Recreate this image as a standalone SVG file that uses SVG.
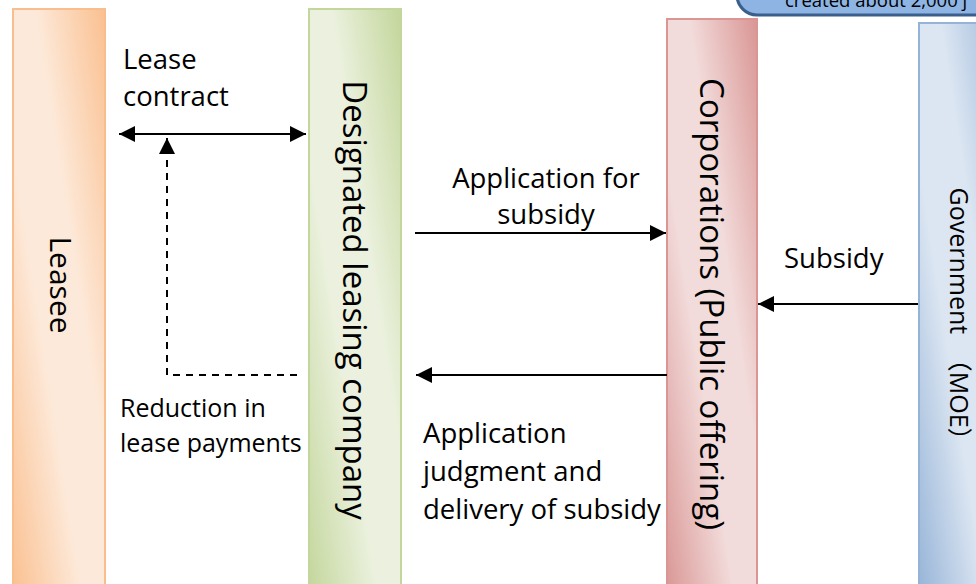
<svg xmlns="http://www.w3.org/2000/svg" width="976" height="584" viewBox="0 0 976 584">
  <style>
    .lbl { font-family: "Open Sans", "Liberation Sans", "Noto Sans CJK JP", sans-serif; fill: #000; }
    .h { font-size: 27.5px; }
    .s { font-size: 25px; }
    .v { font-size: 33px; }
    .line { stroke: #000; stroke-width: 2; fill: none; }
    .dash { stroke: #000; stroke-width: 2; fill: none; stroke-dasharray: 7 6; }
  </style>
  <defs>
    <linearGradient id="gOrange" x1="1" y1="0" x2="0" y2="1">
      <stop offset="0" stop-color="#FAC090"/>
      <stop offset="0.38" stop-color="#FDE9D9"/>
      <stop offset="0.62" stop-color="#FDE9D9"/>
      <stop offset="1" stop-color="#FAC090"/>
    </linearGradient>
    <linearGradient id="gGreen" x1="1" y1="0" x2="0" y2="1">
      <stop offset="0" stop-color="#C3D69B"/>
      <stop offset="0.38" stop-color="#EBF1DE"/>
      <stop offset="0.62" stop-color="#EBF1DE"/>
      <stop offset="1" stop-color="#C3D69B"/>
    </linearGradient>
    <linearGradient id="gRed" x1="1" y1="0" x2="0" y2="1">
      <stop offset="0" stop-color="#D99694"/>
      <stop offset="0.38" stop-color="#F2DCDB"/>
      <stop offset="0.62" stop-color="#F2DCDB"/>
      <stop offset="1" stop-color="#D99694"/>
    </linearGradient>
    <linearGradient id="gBlue" x1="1" y1="0" x2="0" y2="1">
      <stop offset="0" stop-color="#95B3D7"/>
      <stop offset="0.38" stop-color="#DCE6F2"/>
      <stop offset="0.62" stop-color="#DCE6F2"/>
      <stop offset="1" stop-color="#95B3D7"/>
    </linearGradient>
    <marker id="ah" viewBox="0 0 10 10" refX="10" refY="5" markerWidth="8" markerHeight="8" markerUnits="strokeWidth" orient="auto-start-reverse">
      <path d="M0,0 L10,5 L0,10 Z" fill="#000"/>
    </marker>
  </defs>

  <!-- banner at the top edge -->
  <g id="banner">
    <rect x="737" y="-40" width="280" height="55" rx="20" ry="20" fill="#8EB4E3" stroke="#3B5F8C" stroke-width="3"/>
    <text class="lbl" x="785" y="7" font-size="18.5">created about 2,000 j</text>
  </g>

  <!-- lanes -->
  <g id="leasee">
    <rect x="13" y="9" width="92" height="590" fill="url(#gOrange)" stroke="#F9BE8E" stroke-width="2"/>
    <text class="lbl" font-size="30" transform="translate(50 285) rotate(90)" text-anchor="middle">Leasee</text>
  </g>
  <g id="leasing-company">
    <rect x="309" y="9" width="92" height="590" fill="url(#gGreen)" stroke="#C3D69B" stroke-width="2"/>
    <text class="lbl v" transform="translate(343 300) rotate(90)" text-anchor="middle">Designated leasing company</text>
  </g>
  <g id="corporations">
    <rect x="667" y="19" width="90" height="580" fill="url(#gRed)" stroke="#D99694" stroke-width="2"/>
    <text class="lbl v" transform="translate(700 304) rotate(90)" text-anchor="middle">Corporations (Public offering)</text>
  </g>
  <g id="government">
    <rect x="919" y="23" width="90" height="580" fill="url(#gBlue)" stroke="#95B3D7" stroke-width="2"/>
    <text class="lbl s" transform="translate(950 320) rotate(90)" text-anchor="middle">Government　（MOE）</text>
  </g>

  <!-- connectors -->
  <g id="connectors">
    <line class="line" x1="119" y1="134" x2="306" y2="134" marker-start="url(#ah)" marker-end="url(#ah)"/>
    <polyline class="dash" points="297,375 167,375 167,138" marker-end="url(#ah)"/>
    <line class="line" x1="415" y1="233" x2="666" y2="233" marker-end="url(#ah)"/>
    <line class="line" x1="667" y1="375" x2="416" y2="375" marker-end="url(#ah)"/>
    <line class="line" x1="918" y1="304" x2="758" y2="304" marker-end="url(#ah)"/>
  </g>

  <!-- connector labels -->
  <g id="labels">
    <text class="lbl h" x="123" y="69">Lease</text>
    <text class="lbl h" x="123" y="106">contract</text>
    <text class="lbl h" x="546" y="188" text-anchor="middle">Application for</text>
    <text class="lbl h" x="546" y="224" text-anchor="middle">subsidy</text>
    <text class="lbl h" x="784" y="268">Subsidy</text>
    <text class="lbl h" x="423" y="443">Application</text>
    <text class="lbl h" x="423" y="481">judgment and</text>
    <text class="lbl h" x="423" y="519">delivery of subsidy</text>
    <text class="lbl s" x="120" y="417">Reduction in</text>
    <text class="lbl s" x="120" y="452">lease payments</text>
  </g>
</svg>
